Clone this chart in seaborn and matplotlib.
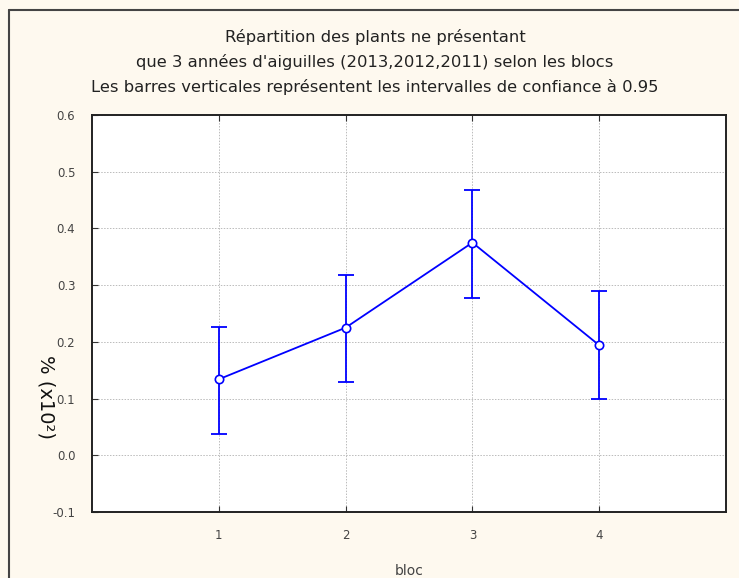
import numpy as np
import pandas as pd
import matplotlib
matplotlib.use("Agg")
import matplotlib.pyplot as plt
import seaborn as sns

# Data
blocs = [1, 2, 3, 4]
moyennes = [0.134, 0.225, 0.375, 0.194]
ic_bas = [0.037, 0.130, 0.278, 0.099]
ic_haut = [0.227, 0.318, 0.467, 0.290]
titre = ["Répartition des plants ne présentant",
         "que 3 années d'aiguilles (2013,2012,2011) selon les blocs",
         "Les barres verticales représentent les intervalles de confiance à 0.95"]
y_ticks = [-0.1, 0.0, 0.1, 0.2, 0.3, 0.4, 0.5, 0.6]

df = pd.DataFrame({"bloc": blocs, "moyenne": moyennes, "bas": ic_bas, "haut": ic_haut})

sns.set_style("white")
plt.rcParams["font.family"] = ["Liberation Sans Narrow", "DejaVu Sans"]

fond = "#FEF9EF"
fig = plt.figure(figsize=(7.39, 5.78), dpi=100, facecolor=fond)
ax = fig.add_axes([92/739, 1-512/578, (726-92)/739, (512-115)/578])
ax.set_facecolor("white")

# Error bars (confidence intervals)
ax.errorbar(df["bloc"], df["moyenne"],
            yerr=[df["moyenne"] - df["bas"], df["haut"] - df["moyenne"]],
            fmt="none", ecolor="#0000FF", elinewidth=1.3, capsize=6, capthick=1.3, zorder=3)
# Mean line with open circles
sns.lineplot(data=df, x="bloc", y="moyenne", ax=ax, color="#0000FF", linewidth=1.3,
             marker="o", markersize=6, markerfacecolor="white", markeredgecolor="#0000FF",
             markeredgewidth=1.2, zorder=4)

ax.set_xlim(0, 5)
ax.set_ylim(-0.1, 0.6)
ax.set_xticks(blocs)
ax.set_xticklabels([str(b) for b in blocs], fontsize=8.5, color="#444444")
ax.set_yticks(y_ticks)
ax.set_yticklabels(["%.1f" % v for v in y_ticks], fontsize=8.5, color="#444444")
ax.tick_params(axis="both", direction="in", length=4, width=0.8, color="#333333",
               top=True, bottom=True, left=True, right=False, pad=12)
ax.grid(True, linestyle=(0, (1.5, 1.5)), color="#bbbbbb", linewidth=0.7)
for s in ax.spines.values():
    s.set_color("#222222")
    s.set_linewidth(1.4)

ax.set_xlabel("bloc", fontsize=10, color="#444444", labelpad=16)
ax.set_ylabel("")
fig.text(46/739, 1-397/578, "% (x10²)", rotation=270, fontsize=14,
         family=["DejaVu Sans"], ha="center", va="center", color="#111111")

for i, ligne in enumerate(titre):
    fig.text(375/739, 1-(37 + 25*i)/578, ligne, ha="center", va="center",
             fontsize=11.8, color="#222222")

# outer frame
fig.add_artist(plt.Line2D([9/739, 9/739], [0, 1-10/578], transform=fig.transFigure,
                          color="#444444", linewidth=1.5))
fig.add_artist(plt.Line2D([9/739, 1], [1-10/578, 1-10/578], transform=fig.transFigure,
                          color="#444444", linewidth=1.5))

fig.savefig("out.png", dpi=100, facecolor=fond)
